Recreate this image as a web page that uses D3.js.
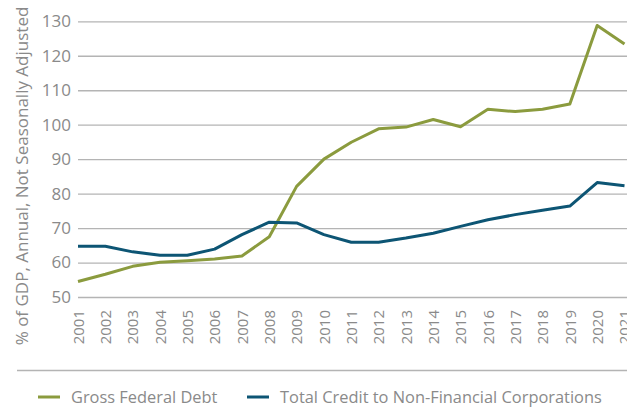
<!DOCTYPE html>
<html>
<head>
<meta charset="utf-8">
<script src="https://cdn.jsdelivr.net/npm/d3@7"></script>
<style>
  body { margin: 0; background: #fff; }
  text { font-family: "Open Sans", sans-serif; fill: #8a8a8a; }
</style>
</head>
<body>
<div id="chart"></div>
<script>
/* data */
const years = ["2001","2002","2003","2004","2005","2006","2007","2008","2009","2010","2011",
               "2012","2013","2014","2015","2016","2017","2018","2019","2020","2021"];
const federalDebt = [54.5, 56.6, 58.9, 60.1, 60.5, 61.0, 61.9, 67.5, 82.1, 90.0, 94.9,
                     98.8, 99.3, 101.5, 99.4, 104.5, 103.8, 104.5, 106.0, 128.8, 123.4];
const corpCredit = [64.7, 64.7, 63.1, 62.1, 62.1, 63.9, 68.1, 71.7, 71.5, 68.1, 65.9,
                    65.9, 67.1, 68.5, 70.5, 72.4, 73.9, 75.2, 76.4, 83.2, 82.3];
const yTicks = [50, 60, 70, 80, 90, 100, 110, 120, 130];
const seriesNames = ["Gross Federal Debt", "Total Credit to Non-Financial Corporations"];
const seriesColors = ["#8b9b3e", "#0d5574"];

const W = 627, H = 413;
const svg = d3.select("#chart").append("svg")
    .attr("width", W).attr("height", H);

/* scales */
const x = d3.scalePoint().domain(years).range([78, 624.5]);
const y = d3.scaleLinear().domain([50, 130]).range([297, 21.3]);

/* grid lines + y labels */
const yAxis = svg.append("g").attr("transform", "translate(78,0)")
    .call(d3.axisLeft(y).tickValues(yTicks).tickSize(-(W - 78)).tickPadding(8));
yAxis.select(".domain").remove();
yAxis.selectAll(".tick line").attr("stroke", "#b4b4b4").attr("stroke-width", 1.3);
yAxis.selectAll(".tick text").style("font-size", "17px").attr("x", -7);

/* x labels, rotated (2021 is clipped by the edge, as in the original) */
const xAxis = svg.append("g").attr("transform", "translate(0,297)")
    .call(d3.axisBottom(x).tickSize(0));
xAxis.select(".domain").remove();
xAxis.selectAll(".tick text")
    .style("font-size", "15px")
    .attr("text-anchor", "end")
    .attr("dy", "0.35em")
    .attr("transform", "translate(0,13) rotate(-90)")
    .attr("x", 0).attr("y", 0);

/* y title */
svg.append("text")
    .attr("transform", "translate(28,176) rotate(-90)")
    .attr("text-anchor", "middle")
    .style("font-size", "17px")
    .text("% of GDP, Annual, Not Seasonally Adjusted");

/* lines */
const line = d3.line().x((d, i) => x(years[i])).y(d => y(d));
[federalDebt, corpCredit].forEach((s, k) => {
    svg.append("path").datum(s)
        .attr("fill", "none")
        .attr("stroke", seriesColors[k])
        .attr("stroke-width", 3)
        .attr("stroke-linejoin", "round")
        .attr("d", line);
});

/* legend separator */
svg.append("line")
    .attr("x1", 17).attr("x2", W).attr("y1", 370.5).attr("y2", 370.5)
    .attr("stroke", "#b4b4b4").attr("stroke-width", 1.3);

/* legend */
const legendX = [38, 247];
seriesNames.forEach((name, k) => {
    const g = svg.append("g").attr("transform", `translate(${legendX[k]},397)`);
    g.append("line").attr("x1", 0).attr("x2", 22)
        .attr("stroke", seriesColors[k]).attr("stroke-width", 3);
    g.append("text").attr("x", 33).attr("dy", "0.35em")
        .style("font-size", "16.4px").text(name);
});
</script>
</body>
</html>
